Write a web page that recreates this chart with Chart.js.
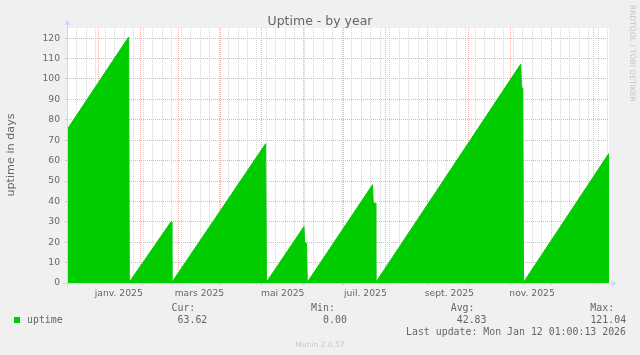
<!DOCTYPE html>
<html>
<head>
<meta charset="utf-8">
<title>Uptime - by year</title>
<script src="https://cdn.jsdelivr.net/npm/chart.js@4.4.1/dist/chart.umd.min.js"></script>
<style>
  html, body { margin: 0; padding: 0; background: #f0f0f0; }
  canvas { display: block; }
</style>
</head>
<body>
<canvas id="uptimeChart" width="640" height="355"></canvas>
<script>
// sawtooth corners (x: days since 1 Jan 2025, y: uptime in days)
const days   = [-23.2, 22.3, 22.8, 53.6, 54.2, 123.4, 124.0, 151.7, 152.2, 153.6, 154.1, 202.3, 202.8, 204.2, 204.7, 311.7, 312.2, 313.2, 313.7, 376.8];
const uptime = [75.1, 120.6, 0.4, 30.0, 0.3, 68.3, 0.4, 27.7, 19.6, 19.6, 0.3, 48.2, 39.2, 39.2, 0.3, 107.3, 95.6, 95.6, 0.3, 63.6];

// calendar: first day of each month, labels every two months
const monthStarts = [0, 31, 59, 90, 120, 151, 181, 212, 243, 273, 304, 334, 365];
const labelDays = [15, 74.5, 136, 197, 259, 320];
const labelTexts = ['janv. 2025', 'mars 2025', 'mai 2025', 'juil. 2025', 'sept. 2025', 'nov. 2025'];
const yLabels = [0, 10, 20, 30, 40, 50, 60, 70, 80, 90, 100, 110, 120];

const statNames = ['Cur:', 'Min:', 'Avg:', 'Max:'];
const statValues = [63.62, 0.00, 42.83, 121.04];
const lastUpdate = 'Mon Jan 12 01:00:13 2026';

const xMin = -23.2, xMax = 376.8;

// mondays (9 Dec 2024 is day -23)
const mondays = [];
for (let d = -23; d <= xMax; d += 7) mondays.push(d);

const xTicks = [
  ...mondays.map(value => ({ value, kind: 'week' })),
  ...monthStarts.map(value => ({ value, kind: 'month' })),
  ...labelDays.map((value, i) => ({ value, kind: 'label', text: labelTexts[i] }))
].sort((a, b) => a.value - b.value);

const GREEN = '#00cc00';
const GRID = '#d6d6d6';
const MGRID = '#efb0b0';
const AXIS = '#cfd6f8';
const FONT = '#666666';
const MONO = '"DejaVu Sans Mono", monospace';

Chart.defaults.font.family = '"DejaVu Sans", sans-serif';
Chart.defaults.color = FONT;

const munin = {
  id: 'munin',
  beforeDraw: chart => {
    const { ctx, chartArea: a } = chart;
    ctx.save();
    ctx.fillStyle = '#f0f0f0';
    ctx.fillRect(0, 0, chart.width, chart.height);
    ctx.fillStyle = '#ffffff';
    ctx.fillRect(a.left, a.top, a.right - a.left, a.bottom - a.top);
    ctx.restore();
  },
  afterDraw: chart => {
    const { ctx, chartArea: a } = chart;
    ctx.save();

    // axes with arrows
    const ax = a.left + 0.5, ay = a.bottom + 0.5;
    ctx.strokeStyle = AXIS;
    ctx.fillStyle = AXIS;
    ctx.lineWidth = 1;
    ctx.beginPath();
    ctx.moveTo(a.left - 4, ay);
    ctx.lineTo(a.right + 4, ay);
    ctx.moveTo(ax, a.bottom + 4);
    ctx.lineTo(ax, a.top - 4);
    ctx.stroke();
    ctx.beginPath();
    ctx.moveTo(a.right + 8, ay);
    ctx.lineTo(a.right + 3, ay - 3);
    ctx.lineTo(a.right + 3, ay + 3);
    ctx.closePath();
    ctx.fill();
    ctx.beginPath();
    ctx.moveTo(ax, a.top - 8);
    ctx.lineTo(ax - 3, a.top - 3);
    ctx.lineTo(ax + 3, a.top - 3);
    ctx.closePath();
    ctx.fill();

    // title
    ctx.fillStyle = FONT;
    ctx.textAlign = 'center';
    ctx.textBaseline = 'alphabetic';
    ctx.font = '12.5px "DejaVu Sans"';
    ctx.fillText('Uptime - by year', 320, 25);

    // vertical label
    ctx.save();
    ctx.translate(11, 155);
    ctx.rotate(-Math.PI / 2);
    ctx.textBaseline = 'middle';
    ctx.font = '11.2px "DejaVu Sans"';
    ctx.fillText('uptime in days', 0, 0);
    ctx.restore();

    // rrdtool watermark
    ctx.save();
    ctx.translate(632, 5);
    ctx.rotate(Math.PI / 2);
    ctx.textAlign = 'left';
    ctx.textBaseline = 'middle';
    ctx.fillStyle = '#c4c4c4';
    ctx.font = '7.5px "DejaVu Sans"';
    ctx.fillText('RRDTOOL / TOBI OETIKER', 0, 0);
    ctx.restore();

    // legend
    ctx.fillStyle = GREEN;
    ctx.fillRect(14, 317, 6, 6);
    ctx.fillStyle = FONT;
    ctx.font = '9.9px ' + MONO;
    ctx.textAlign = 'left';
    ctx.fillText('uptime', 27, 322.5);
    ctx.textAlign = 'right';
    statNames.forEach((name, i) => {
      const right = 207.3 + i * 139.6;
      ctx.fillText(name, right - 12, 311);
      ctx.fillText(statValues[i].toFixed(2), right, 322.5);
    });
    ctx.fillText('Last update: ' + lastUpdate, 626, 334.5);

    ctx.textAlign = 'center';
    ctx.fillStyle = '#c8c8c8';
    ctx.font = '7.5px "DejaVu Sans"';
    ctx.fillText('Munin 2.0.57', 320, 346.7);

    ctx.restore();
  }
};

const gridColor = kind => kind === 'month' ? MGRID : kind === 'week' ? GRID : 'rgba(0,0,0,0)';

new Chart(document.getElementById('uptimeChart'), {
  type: 'line',
  data: {
    datasets: [{
      label: 'uptime',
      data: days.map((d, i) => ({ x: d, y: uptime[i] })),
      backgroundColor: GREEN,
      borderColor: GREEN,
      borderWidth: 1,
      pointRadius: 0,
      tension: 0,
      fill: 'origin'
    }]
  },
  options: {
    responsive: false,
    animation: false,
    devicePixelRatio: 1,
    layout: { padding: { top: 28, right: 31, left: 0, bottom: 0 } },
    plugins: {
      legend: { display: false },
      tooltip: { enabled: false },
      title: { display: false }
    },
    scales: {
      x: {
        type: 'linear',
        min: xMin,
        max: xMax,
        afterBuildTicks: scale => { scale.ticks = xTicks.map(t => ({ ...t })); },
        afterFit: scale => { scale.height = 72; },
        ticks: {
          autoSkip: false,
          maxRotation: 0,
          minRotation: 0,
          padding: 3,
          font: { size: 9.2 },
          color: FONT,
          callback: (value, index, ticks) => ticks[index].kind === 'label' ? ticks[index].text : ''
        },
        grid: {
          color: ctx => gridColor(ctx.tick && ctx.tick.kind),
          lineWidth: 1,
          tickLength: 2
        },
        border: { display: false, dash: [1, 1] }
      },
      y: {
        min: 0,
        max: 125,
        afterFit: scale => { scale.width = 67; },
        ticks: {
          stepSize: 5,
          padding: 5,
          font: { size: 9.2 },
          color: FONT,
          callback: value => yLabels.includes(value) ? String(value) : ''
        },
        grid: {
          color: ctx => ctx.tick && ctx.tick.value % 10 === 0 ? MGRID : GRID,
          lineWidth: 1,
          tickLength: 2
        },
        border: { display: false, dash: [1, 1] }
      }
    }
  },
  plugins: [munin]
});
</script>
</body>
</html>
